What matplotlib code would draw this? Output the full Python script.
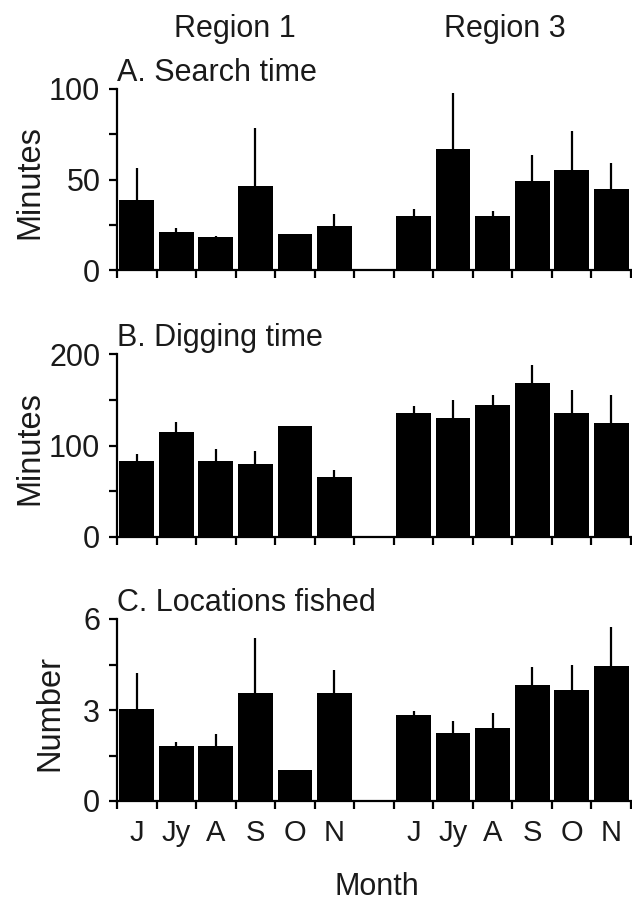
import matplotlib.pyplot as plt
import numpy as np

plt.rcParams['font.family'] = ['Liberation Sans', 'DejaVu Sans']

months = ['J', 'Jy', 'A', 'S', 'O', 'N']
regions = ['Region 1', 'Region 3']

# A. Search time (minutes): means and top of error bars
search_r1 = [38.9, 21.1, 18.1, 46.3, 19.8, 24.3]
search_r1_top = [56.1, 23.3, 18.9, 78.3, 19.8, 30.9]
search_r3 = [30.0, 67.0, 30.0, 49.3, 55.2, 44.8]
search_r3_top = [33.9, 97.8, 32.4, 63.5, 76.9, 59.1]

# B. Digging time (minutes)
dig_r1 = [83.2, 115.0, 83.2, 80.2, 121.2, 65.6]
dig_r1_top = [90.8, 126.0, 96.7, 93.8, 121.2, 73.3]
dig_r3 = [135.9, 130.0, 144.7, 168.1, 135.9, 124.2]
dig_r3_top = [143.6, 149.5, 155.3, 187.5, 161.2, 155.0]

# C. Locations fished (number)
loc_r1 = [3.03, 1.80, 1.80, 3.55, 1.01, 3.55]
loc_r1_top = [4.22, 1.94, 2.20, 5.36, 1.01, 4.32]
loc_r3 = [2.85, 2.24, 2.41, 3.82, 3.65, 4.44]
loc_r3_top = [2.98, 2.64, 2.91, 4.41, 4.48, 5.72]

panels = [
    ('A. Search time', 'Minutes', search_r1, search_r1_top, search_r3, search_r3_top, 100),
    ('B. Digging time', 'Minutes', dig_r1, dig_r1_top, dig_r3, dig_r3_top, 200),
    ('C. Locations fished', 'Number', loc_r1, loc_r1_top, loc_r3, loc_r3_top, 6),
]

W, H = 632, 901
fig = plt.figure(figsize=(W / 100, H / 100), dpi=100)

# pixel layout of each panel: (top, bottom)
boxes = [(89, 270), (354, 537), (619, 801)]
left_px, right_px = 117, 631

x1 = np.arange(6)
x3 = np.arange(6) + 7
xpos = np.concatenate([x1, x3])
tc = '#1a1a1a'

for i, (title, ylab, r1, r1t, r3, r3t, ymax) in enumerate(panels):
    top, bot = boxes[i]
    ax = fig.add_axes([left_px / W, 1 - bot / H, (right_px - left_px) / W, (bot - top) / H])
    vals = np.array(r1 + r3)
    tops = np.array(r1t + r3t)
    ax.bar(xpos, vals, width=0.88, color='black', zorder=2)
    ax.vlines(xpos, vals, tops, color='black', lw=1.6, zorder=2)
    ax.set_xlim(-0.5, 12.5)
    ax.set_ylim(0, ymax)
    for s in ['top', 'right']:
        ax.spines[s].set_visible(False)
    for s in ['left', 'bottom']:
        ax.spines[s].set_linewidth(1.6)
        ax.spines[s].set_zorder(3)
    ax.set_yticks([0, ymax / 2, ymax])
    ax.set_yticklabels(['0', f'{ymax // 2}', f'{ymax}'])
    ax.set_yticks([ymax / 4, 3 * ymax / 4], minor=True)
    ax.set_xticks(np.arange(14) - 0.5)
    ax.set_xticklabels([])
    ax.tick_params(which='both', direction='out', length=6, width=1.6,
                   labelsize=22, labelcolor=tc)
    ax.tick_params(axis='y', pad=6)
    if i == 2:
        ax.set_xticks(xpos, minor=True)
        ax.set_xticklabels(months + months, minor=True)
        ax.tick_params(axis='x', which='minor', length=0, pad=13, labelsize=21)
    fig.text(left_px / W, 1 - (top - 8) / H, title, fontsize=22, color=tc,
             ha='left', va='baseline')
    fig.text((30 if ylab == 'Minutes' else 50) / W, 1 - ((top + bot) / 2 + 3) / H, ylab,
             fontsize=23.5, color=tc, rotation=90, ha='center', va='center')

fig.text(235 / W, 1 - 37 / H, regions[0], fontsize=22, color=tc, ha='center', va='baseline')
fig.text(505 / W, 1 - 37 / H, regions[1], fontsize=22, color=tc, ha='center', va='baseline')
fig.text(377 / W, 1 - 895 / H, 'Month', fontsize=22, color=tc, ha='center', va='baseline')

fig.savefig('out.png', dpi=100)
